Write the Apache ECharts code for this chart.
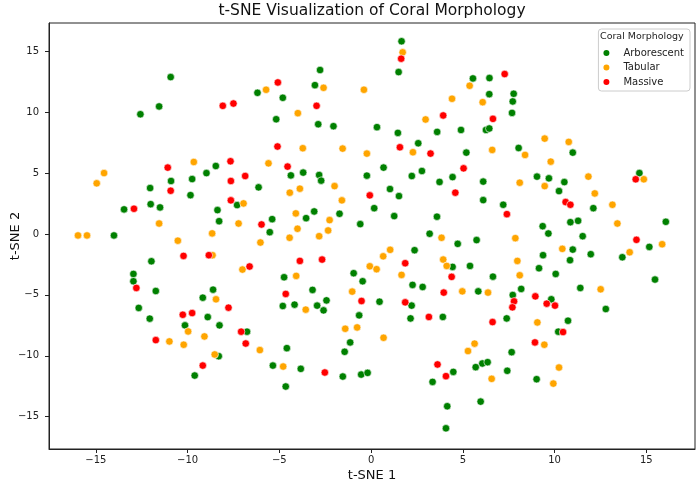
<!DOCTYPE html>
<html>
<head>
<meta charset="utf-8">
<script src="https://cdn.jsdelivr.net/npm/echarts@6/dist/echarts.min.js"></script>
<style>
  html, body { margin: 0; padding: 0; background: #fff; }
  #main { width: 700px; height: 485px; }
</style>
</head>
<body>
<div id="main"></div>
<script>
// points, [t-SNE 1, t-SNE 2]
var arborescent = [
  [-10.92, 12.88], [-12.57, 9.83], [-11.55, 10.47], [-6.19, 11.59], [-8.46, 5.58], [-8.97, 5.00],
  [-9.75, 4.51], [-10.90, 4.35], [-12.04, 3.77], [-9.84, 3.19], [-6.13, 3.83], [-7.30, 2.37],
  [-13.46, 2.02], [-12.01, 2.45], [-11.50, 2.18], [-8.37, 1.96], [-8.28, 1.05], [-14.01, -0.12],
  [-5.52, 0.15], [-5.39, 1.22],
  [-11.97, -2.24], [-12.95, -3.28], [-12.95, -3.88], [-11.73, -4.68], [-12.66, -6.07], [-12.06, -6.95],
  [-9.17, -5.23], [-8.61, -4.57], [-8.90, -6.82], [-10.14, -7.50], [-8.26, -7.50], [-6.76, -8.02],
  [-8.30, -10.03], [-9.61, -11.62], [-5.35, -10.80],
  [1.66, 15.82], [1.50, 13.29], [-2.78, 13.46], [-3.06, 12.22], [-4.81, 11.18], [-5.17, 9.42],
  [-2.88, 9.01], [-2.05, 8.85], [0.32, 8.77], [1.46, 8.30], [5.55, 12.77], [6.45, 12.80],
  [6.44, 11.48], [3.60, 8.38], [4.90, 8.54], [6.26, 8.54], [6.44, 8.66], [2.57, 7.45],
  [5.19, 6.68], [-4.37, 4.81], [-3.70, 5.04], [-2.83, 4.84], [-2.72, 4.38], [-0.23, 4.79],
  [0.68, 5.45], [2.22, 4.76], [2.77, 5.17], [4.44, 4.67], [3.73, 4.27], [6.11, 4.30],
  [1.03, 3.69], [1.52, 3.11], [6.11, 2.78], [0.17, 2.12], [1.26, 1.47], [3.59, 1.42],
  [-3.54, 1.30], [-3.10, 1.85], [-1.72, 1.66], [-0.59, 0.81], [3.19, 0.02], [5.75, -0.50],
  [7.77, 11.51], [7.72, 10.88], [7.68, 9.94], [8.04, 7.06], [10.99, 6.68], [9.04, 4.71],
  [9.69, 4.57], [10.53, 4.26], [10.24, 3.52], [14.62, 5.00], [7.20, 2.40], [12.11, 2.12],
  [10.86, 0.97], [11.28, 1.08], [16.06, 1.00], [9.35, 0.64], [9.66, 0.04], [11.53, -0.18],
  [10.99, -1.28], [9.37, -1.74], [11.97, -1.66], [10.84, -2.15], [15.16, -1.06], [13.69, -1.91],
  [15.47, -3.74], [9.15, -2.81], [10.06, -3.28], [6.64, -3.50], [5.84, -4.71], [7.72, -5.01],
  [8.18, -4.51], [9.82, -5.36], [11.40, -4.43], [12.79, -6.16], [7.39, -6.93], [10.73, -7.12],
  [10.20, -8.02], [7.66, -9.70], [6.06, -10.63], [6.35, -10.52], [5.70, -10.93], [7.42, -11.23],
  [9.02, -11.92], [5.97, -13.76],
  [4.72, -0.81], [2.37, -1.33], [4.44, -2.70], [5.39, -2.62], [-4.74, -3.55], [-0.95, -3.22],
  [-0.46, -3.88], [2.26, -4.18], [2.81, -4.35], [-3.19, -4.59], [-4.81, -5.91], [-4.17, -5.80],
  [-2.94, -5.88], [-2.59, -6.27], [-2.43, -5.45], [0.46, -5.56], [2.21, -5.88], [2.15, -6.93],
  [3.91, -6.81], [-0.65, -6.68], [-1.14, -8.90], [-1.44, -9.67], [-4.59, -9.37], [-3.83, -11.07],
  [-1.54, -11.70], [-0.54, -11.54], [-0.19, -11.40], [-4.65, -12.52], [4.48, -11.32], [3.35, -12.14],
  [4.15, -14.14], [4.08, -15.95]
];

var tabular = [
  [-5.72, 11.84], [-9.66, 5.91], [-14.55, 5.00], [-14.95, 4.16], [-6.95, 2.51], [-5.59, 5.80],
  [-11.55, 0.86], [-7.22, 0.86], [-8.66, 0.05], [-15.97, -0.12], [-15.48, -0.12], [-10.53, -0.55],
  [-6.03, -0.70], [-8.64, -1.74], [-7.01, -2.92], [-8.45, -5.36], [-9.97, -8.00], [-9.08, -8.41],
  [-10.99, -8.82], [-10.21, -9.09], [-6.06, -9.53], [-8.52, -9.89],
  [1.72, 14.91], [-2.59, 12.00], [-0.39, 11.84], [-3.99, 9.92], [5.37, 12.17], [4.41, 11.10],
  [6.08, 10.82], [2.97, 9.40], [-3.72, 7.04], [-1.55, 7.01], [-0.23, 6.60], [2.28, 6.71],
  [-4.43, 3.39], [-3.88, 3.72], [-1.99, 3.93], [-1.59, 2.76], [-4.10, 1.69], [-2.26, 1.14],
  [-4.01, 0.43], [-2.34, 0.29], [-4.44, -0.31], [-2.83, -0.18], [3.84, -0.31],
  [6.60, 6.90], [8.39, 6.49], [9.46, 7.83], [10.77, 7.56], [9.79, 5.94], [9.46, 3.93],
  [11.84, 4.71], [12.19, 3.33], [13.15, 2.40], [14.86, 4.49], [8.10, 4.21], [13.42, 0.86],
  [7.86, -0.34],
  [10.42, -1.22], [7.97, -2.21], [15.86, -0.84], [14.09, -1.50], [8.10, -3.39], [6.37, -4.81],
  [12.51, -4.54], [9.06, -7.26], [9.44, -9.09], [5.64, -9.00], [10.24, -10.96], [6.57, -11.89],
  [9.93, -12.28],
  [1.04, -1.30], [0.66, -1.83], [-0.07, -2.65], [0.30, -2.89], [3.93, -2.10], [4.12, -2.62],
  [-4.08, -3.44], [1.66, -3.36], [-1.03, -4.73], [-3.56, -6.21], [4.97, -4.71], [-1.41, -7.78],
  [-0.76, -7.67], [0.68, -8.52], [5.28, -9.61], [-4.79, -10.88]
];

var massive = [
  [-8.08, 10.52], [-7.50, 10.71], [-7.66, 5.97], [-11.08, 5.45], [-10.92, 3.55], [-7.64, 4.35],
  [-6.86, 4.76], [-7.64, 2.76], [-12.92, 2.07], [-5.97, 0.78],
  [-10.22, -1.80], [-8.84, -1.74], [-6.62, -2.67], [-12.79, -4.43], [-7.77, -6.05], [-10.26, -6.63],
  [-9.75, -6.49], [-11.73, -8.71], [-7.08, -8.02], [-6.83, -8.99], [-9.17, -10.80],
  [1.64, 14.39], [-5.08, 12.44], [-2.97, 10.52], [3.93, 9.73], [-5.10, 7.18], [1.57, 7.12],
  [3.24, 6.60], [-4.55, 5.53], [5.04, 5.39], [-0.07, 3.17], [4.59, 3.39],
  [7.28, 13.13], [6.64, 9.45], [14.42, 4.49], [7.40, 1.63], [10.60, 2.62], [10.86, 2.40],
  [14.46, -0.48],
  [7.79, -5.53], [7.70, -6.02], [8.95, -5.12], [9.57, -5.72], [10.02, -5.88], [6.62, -7.23],
  [10.46, -8.05], [8.93, -8.90],
  [-3.88, -2.21], [-2.67, -2.10], [1.86, -2.40], [4.39, -3.52], [-4.65, -4.92], [-0.52, -5.50],
  [1.86, -5.61], [3.15, -6.81], [3.96, -4.81], [-2.52, -11.37], [3.62, -10.71], [4.08, -11.67]
];

var ticks = [-15, -10, -5, 0, 5, 10, 15];
var classNames = ['Arborescent', 'Tabular', 'Massive'];
var classColors = ['#008000', '#ffa500', '#ff0000'];

var font = 'DejaVu Sans';
function fmt(v) {
  return v < 0 ? '\u2212' + Math.abs(v) : String(v);
}

function makeAxis(name, min, max, gap, margin) {
  return {
    type: 'value',
    min: min,
    max: max,
    name: name,
    nameLocation: 'middle',
    nameGap: gap,
    nameMoveOverlap: false,
    nameTextStyle: { fontFamily: font, fontSize: 13, color: '#111' },
    axisLine: { show: true, onZero: false, lineStyle: { color: '#222', width: 1 } },
    axisTick: { show: true, length: 4, customValues: ticks, lineStyle: { color: '#222' } },
    axisLabel: { customValues: ticks, formatter: fmt, margin: margin,
      fontFamily: font, fontSize: 10, color: '#222' },
    splitLine: { show: false }
  };
}

var myChart = echarts.init(document.getElementById('main'));

var series = [arborescent, tabular, massive].map(function (pts, i) {
  return {
    name: classNames[i],
    type: 'scatter',
    data: pts,
    symbolSize: 7.5,
    itemStyle: { color: classColors[i], borderColor: '#fff', borderWidth: 0.6, opacity: 1 }
  };
});

var option = {
  animation: false,
  backgroundColor: '#fff',
  title: [
    {
      text: 't-SNE Visualization of Coral Morphology',
      left: 372,
      top: 3,
      textAlign: 'center',
      padding: 0,
      textStyle: { fontFamily: font, fontSize: 15.5, fontWeight: 'normal', color: '#111' }
    },
    {
      text: 'Coral Morphology',
      left: 600,
      top: 32,
      padding: 0,
      z: 10,
      textStyle: { fontFamily: font, fontSize: 9.5, fontWeight: 'normal', color: '#222' }
    }
  ],
  legend: {
    orient: 'vertical',
    right: 10,
    top: 29,
    padding: [19, 6, 4, 3],
    itemWidth: 24,
    itemHeight: 8,
    itemGap: 4.5,
    icon: 'circle',
    backgroundColor: 'rgba(255,255,255,0.8)',
    borderColor: '#ccc',
    borderWidth: 1,
    borderRadius: 3,
    textStyle: { fontFamily: font, fontSize: 10, color: '#222' },
    data: classNames
  },
  grid: {
    left: 49,
    right: 5,
    top: 23,
    bottom: 36,
    containLabel: false,
    outerBoundsMode: 'none',
    show: true,
    borderColor: '#222',
    borderWidth: 1,
    backgroundColor: 'transparent'
  },
  xAxis: makeAxis('t-SNE 1', -17.55, 17.65, 20, 6),
  yAxis: makeAxis('t-SNE 2', -17.65, 17.32, 27, 10),
  series: series
};
myChart.setOption(option);
</script>
</body>
</html>
